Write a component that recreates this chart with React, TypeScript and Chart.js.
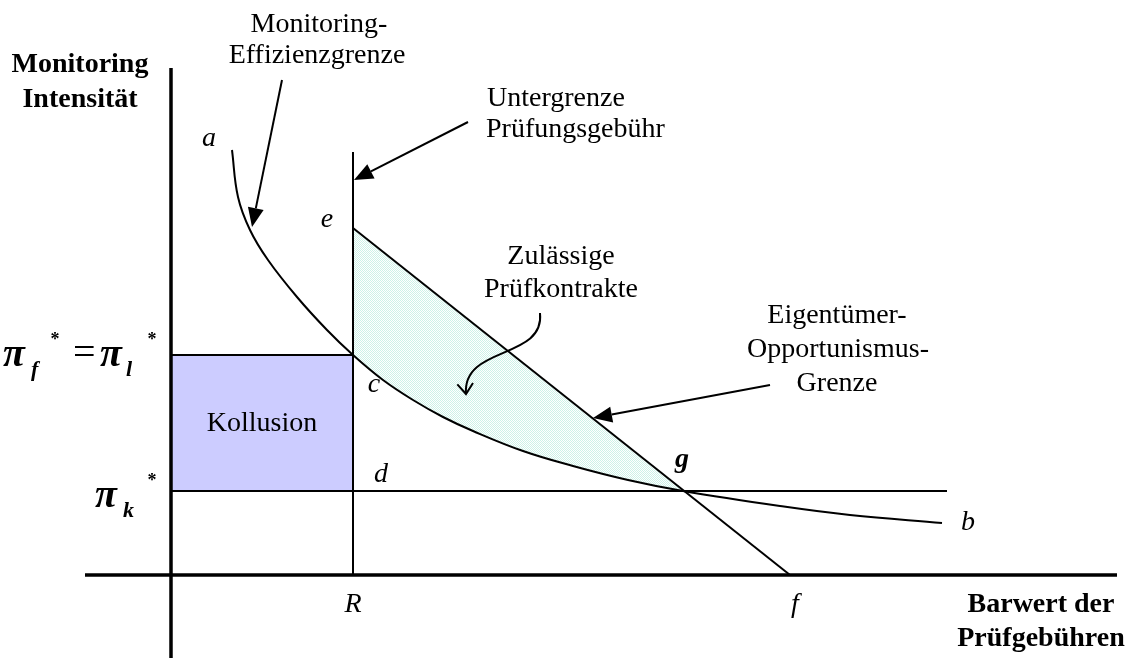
import React, { useEffect, useRef } from 'react';
import { Chart, registerables } from 'chart.js';

Chart.register(...registerables);

// ---- data (abstract diagram units) ----
// Monitoring-Effizienzgrenze a -> b
const curveX = [1.22, 1.34, 1.58, 1.94, 2.52, 3.12, 3.64, 4.24, 4.84, 5.44, 6.04, 7.04, 8.04, 9.14, 10.24, 12.18, 13.58, 15.42];
const curveY = [8.5, 7.56, 6.9, 6.3, 5.56, 4.9, 4.4, 3.9, 3.5, 3.16, 2.88, 2.48, 2.18, 1.9, 1.68, 1.38, 1.2, 1.04];

// Eigentümer-Opportunismus-Grenze e -> f
const boundX = [3.64, 12.38];
const boundY = [6.94, 0];

// upper edge of the feasible region e -> g
const feasibleX = [3.64, 10.24];
const feasibleY = [6.94, 1.68];

const R_VALUE = 3.64;
const R_TOP = 8.46;
const PI_K = 1.68;
const PI_F = 4.4;
const PI_K_END = 15.52;

const X_AXIS = [-1.72, 18.92];
const Y_AXIS = [-1.66, 10.14];

const X_RANGE = [-3.42, 19.18];
const Y_RANGE = [-1.66, 11.5];

// ---- annotation texts ----
const SERIF = '"Liberation Serif", "Times New Roman", serif';
type Label = { text: string; x: number; y: number; font: string; align?: CanvasTextAlign };
const LABELS: Label[] = [
  { text: 'Monitoring', x: -1.82, y: 10.06, font: `bold 28px ${SERIF}` },
  { text: 'Intensität', x: -1.82, y: 9.36, font: `bold 28px ${SERIF}` },
  { text: 'Monitoring-', x: 2.96, y: 10.86, font: `28px ${SERIF}` },
  { text: 'Effizienzgrenze', x: 2.92, y: 10.24, font: `28px ${SERIF}` },
  { text: 'Untergrenze', x: 6.32, y: 9.38, font: `28px ${SERIF}`, align: 'left' },
  { text: 'Prüfungsgebühr', x: 6.3, y: 8.76, font: `28px ${SERIF}`, align: 'left' },
  { text: 'Zulässige', x: 7.8, y: 6.22, font: `28px ${SERIF}` },
  { text: 'Prüfkontrakte', x: 7.8, y: 5.56, font: `28px ${SERIF}` },
  { text: 'Eigentümer-', x: 13.32, y: 5.04, font: `28px ${SERIF}` },
  { text: 'Opportunismus-', x: 13.34, y: 4.36, font: `28px ${SERIF}` },
  { text: 'Grenze', x: 13.32, y: 3.68, font: `28px ${SERIF}` },
  { text: 'Kollusion', x: 1.82, y: 2.88, font: `28px ${SERIF}` },
  { text: 'a', x: 0.76, y: 8.58, font: `italic 28px ${SERIF}` },
  { text: 'e', x: 3.12, y: 6.96, font: `italic 28px ${SERIF}` },
  { text: 'c', x: 4.06, y: 3.66, font: `italic 28px ${SERIF}` },
  { text: 'd', x: 4.2, y: 1.86, font: `italic 28px ${SERIF}` },
  { text: 'g', x: 10.22, y: 2.16, font: `italic bold 28px ${SERIF}` },
  { text: 'b', x: 15.94, y: 0.9, font: `italic 28px ${SERIF}` },
  { text: 'R', x: 3.64, y: -0.74, font: `italic 28px ${SERIF}` },
  { text: 'f', x: 12.48, y: -0.74, font: `italic 28px ${SERIF}` },
  { text: 'Barwert der', x: 17.4, y: -0.74, font: `bold 28px ${SERIF}` },
  { text: 'Prüfgebühren', x: 17.4, y: -1.42, font: `bold 28px ${SERIF}` },
  // π_f* = π_l*
  { text: 'π', x: -3.36, y: 4.18, font: `italic bold 40px ${SERIF}`, align: 'left' },
  { text: 'f', x: -2.8, y: 3.98, font: `italic bold 22px ${SERIF}`, align: 'left' },
  { text: '*', x: -2.32, y: 4.6, font: `bold 18px ${SERIF}` },
  { text: '=', x: -1.96, y: 4.2, font: `40px ${SERIF}`, align: 'left' },
  { text: 'π', x: -1.42, y: 4.18, font: `italic bold 40px ${SERIF}`, align: 'left' },
  { text: 'l', x: -0.9, y: 3.98, font: `italic bold 22px ${SERIF}`, align: 'left' },
  { text: '*', x: -0.38, y: 4.6, font: `bold 18px ${SERIF}` },
  // π_k*
  { text: 'π', x: -1.52, y: 1.36, font: `italic bold 40px ${SERIF}`, align: 'left' },
  { text: 'k', x: -0.96, y: 1.16, font: `italic bold 22px ${SERIF}`, align: 'left' },
  { text: '*', x: -0.38, y: 1.78, font: `bold 18px ${SERIF}` },
];

type Arrow = { from: [number, number]; to: [number, number] };
const ARROWS: Arrow[] = [
  { from: [2.22, 9.9], to: [1.62, 6.96] },
  { from: [5.94, 9.06], to: [3.66, 7.9] },
  { from: [11.98, 3.8], to: [8.44, 3.14] },
];
// curved arrow (cubic bezier control points)
const CURVED_ARROW: [number, number][] = [
  [7.38, 5.24],
  [7.48, 4.3],
  [5.82, 4.6],
  [5.9, 3.62],
];

const pts = (xs: number[], ys: number[]) => xs.map((x, i) => ({ x, y: ys[i] }));

const annotationPlugin = {
  id: 'annotations',
  afterDatasetsDraw(chart: any) {
    const { ctx } = chart;
    const sx = chart.scales.x;
    const sy = chart.scales.y;
    const X = (v: number) => sx.getPixelForValue(v);
    const Y = (v: number) => sy.getPixelForValue(v);
    ctx.save();
    ctx.fillStyle = '#000';
    ctx.strokeStyle = '#000';
    ctx.textBaseline = 'alphabetic';
    for (const t of LABELS) {
      ctx.font = t.font;
      ctx.textAlign = t.align || 'center';
      ctx.fillText(t.text, X(t.x), Y(t.y));
    }
    // straight arrows with filled heads
    const headLen = 19;
    const headHalf = 8;
    ctx.lineWidth = 2;
    for (const a of ARROWS) {
      const x0 = X(a.from[0]);
      const y0 = Y(a.from[1]);
      const x1 = X(a.to[0]);
      const y1 = Y(a.to[1]);
      const ang = Math.atan2(y1 - y0, x1 - x0);
      const bx = x1 - headLen * Math.cos(ang);
      const by = y1 - headLen * Math.sin(ang);
      ctx.beginPath();
      ctx.moveTo(x0, y0);
      ctx.lineTo(bx, by);
      ctx.stroke();
      ctx.beginPath();
      ctx.moveTo(x1, y1);
      ctx.lineTo(bx + headHalf * Math.sin(ang), by - headHalf * Math.cos(ang));
      ctx.lineTo(bx - headHalf * Math.sin(ang), by + headHalf * Math.cos(ang));
      ctx.closePath();
      ctx.fill();
    }
    // curved arrow with open head
    const c = CURVED_ARROW.map(([a, b]) => [X(a), Y(b)]);
    ctx.beginPath();
    ctx.moveTo(c[0][0], c[0][1]);
    ctx.bezierCurveTo(c[1][0], c[1][1], c[2][0], c[2][1], c[3][0], c[3][1]);
    ctx.stroke();
    const ang = Math.atan2(c[3][1] - c[2][1], c[3][0] - c[2][0]);
    const hl = 13;
    const spread = 0.65;
    ctx.beginPath();
    ctx.moveTo(c[3][0] - hl * Math.cos(ang - spread), c[3][1] - hl * Math.sin(ang - spread));
    ctx.lineTo(c[3][0], c[3][1]);
    ctx.lineTo(c[3][0] - hl * Math.cos(ang + spread), c[3][1] - hl * Math.sin(ang + spread));
    ctx.stroke();
    ctx.restore();
  },
};

function makePattern(): CanvasPattern | string {
  const c = document.createElement('canvas');
  c.width = 2;
  c.height = 2;
  const g = c.getContext('2d');
  if (!g) return '#e4f7f2';
  g.fillStyle = '#ffffff';
  g.fillRect(0, 0, 2, 2);
  g.fillStyle = '#cdf2e8';
  g.fillRect(0, 0, 1, 1);
  g.fillRect(1, 1, 1, 1);
  const p = g.createPattern(c, 'repeat');
  return p || '#e4f7f2';
}

export default function App() {
  const ref = useRef<HTMLCanvasElement | null>(null);
  useEffect(() => {
    if (!ref.current) return;
    const line = (data: any[], extra: any = {}) => ({
      data,
      showLine: true,
      pointRadius: 0,
      borderColor: '#000',
      borderWidth: 2,
      fill: false,
      ...extra,
    });
    const chart = new Chart(ref.current, {
      type: 'scatter',
      data: {
        datasets: [
          line(pts(X_AXIS, [0, 0]), { borderWidth: 3.5 }),
          line(pts([0, 0], Y_AXIS), { borderWidth: 3.5 }),
          line(pts(curveX, curveY), { tension: 0.4 }),
          line(pts(boundX, boundY)),
          line(pts([R_VALUE, R_VALUE], [0, R_TOP])),
          line(pts([0, PI_K_END], [PI_K, PI_K])),
          line(pts([0, R_VALUE], [PI_F, PI_F]), {
            fill: { value: PI_K },
            backgroundColor: '#ccccff',
          }),
          line(pts(feasibleX, feasibleY), {
            borderWidth: 0,
            borderColor: 'rgba(0,0,0,0)',
            fill: 2,
            backgroundColor: makePattern(),
          }),
        ],
      },
      options: {
        animation: false,
        responsive: true,
        maintainAspectRatio: false,
        layout: { padding: 0 },
        plugins: {
          legend: { display: false },
          tooltip: { enabled: false },
          title: { display: false },
        },
        scales: {
          x: { type: 'linear', min: X_RANGE[0], max: X_RANGE[1], display: false },
          y: { type: 'linear', min: Y_RANGE[0], max: Y_RANGE[1], display: false },
        },
      },
      plugins: [annotationPlugin],
    });
    return () => chart.destroy();
  }, []);
  return (
    <div style={{ position: 'fixed', left: 0, top: 0, width: 1130, height: 658, background: '#fff' }}>
      <canvas ref={ref} />
    </div>
  );
}
